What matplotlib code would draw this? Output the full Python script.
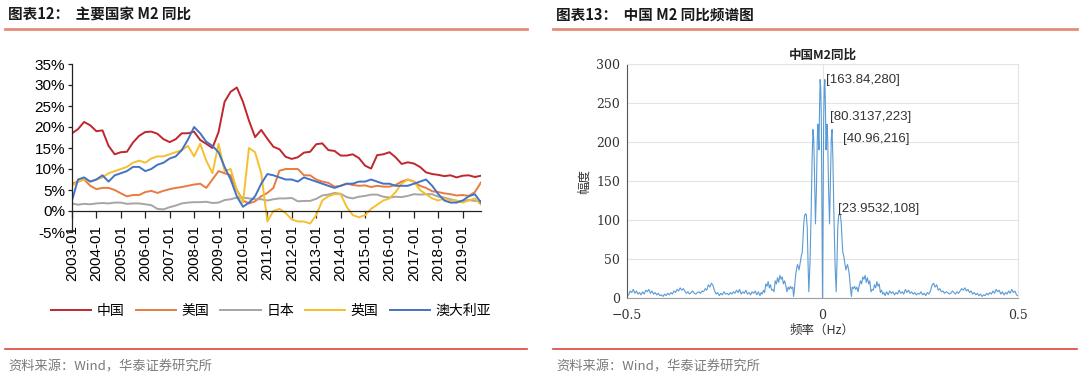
import numpy as np
import pandas as pd
import matplotlib
matplotlib.use('Agg')
import matplotlib.pyplot as plt
from matplotlib.lines import Line2D

plt.rcParams['font.family'] = ['Noto Sans CJK SC', 'DejaVu Sans']
plt.rcParams['axes.unicode_minus'] = False

# ---------------------------------------------------------------- data
# left chart: M2 yoy (%), quarterly samples 2003-01 .. 2019-10
quarters = pd.date_range('2003-01-01', '2019-10-01', freq='QS')

m2_china = [18.5, 19.5, 21.2, 20.4, 19.0, 19.2, 15.5, 13.5, 14.0, 14.1, 16.3, 17.9,
            18.8, 18.9, 18.4, 17.1, 16.4, 17.1, 18.5, 18.5, 18.9, 16.9, 16.0, 15.0,
            18.8, 26.0, 28.4, 29.4, 26.0, 21.5, 17.6, 19.3, 17.2, 15.3, 14.7, 12.9,
            12.4, 12.8, 13.9, 14.1, 15.9, 16.1, 14.5, 14.3, 13.2, 13.2, 13.5, 12.6,
            10.8, 10.1, 13.3, 13.5, 14.0, 12.8, 11.2, 11.6, 11.3, 10.5, 9.2, 8.8,
            8.6, 8.3, 8.5, 8.0, 8.4, 8.5, 8.1, 8.4]
m2_us = [6.5, 7.0, 7.5, 6.0, 5.2, 5.5, 5.5, 5.0, 4.2, 3.5, 3.8, 3.8,
         4.5, 4.8, 4.3, 4.8, 5.2, 5.5, 5.7, 6.0, 6.3, 6.5, 5.5, 7.5,
         9.5, 9.0, 8.5, 5.0, 2.5, 1.8, 2.3, 3.5, 4.3, 5.5, 9.6, 10.0,
         10.0, 10.0, 8.5, 8.5, 7.5, 7.0, 6.7, 5.8, 6.0, 6.5, 6.2, 6.0,
         6.1, 5.7, 6.0, 5.8, 5.8, 6.2, 7.0, 7.5, 7.0, 6.0, 5.5, 4.7,
         4.5, 4.2, 4.0, 3.7, 3.8, 3.6, 4.5, 6.8]
m2_japan = [1.8, 1.5, 1.7, 1.6, 1.8, 1.9, 1.8, 2.0, 2.0, 1.7, 1.8, 1.8,
            1.6, 1.4, 0.5, 0.4, 0.9, 1.3, 1.8, 2.0, 2.1, 2.1, 2.2, 1.9,
            2.0, 2.6, 2.8, 3.2, 3.2, 3.0, 2.8, 2.8, 2.5, 2.8, 3.0, 3.0,
            3.1, 2.3, 2.4, 2.4, 2.9, 3.7, 3.9, 4.3, 4.1, 3.3, 3.0, 3.4,
            3.6, 3.9, 3.9, 3.4, 3.2, 3.4, 3.3, 3.6, 4.0, 3.9, 4.0, 4.0,
            3.4, 3.2, 2.8, 2.4, 2.4, 2.6, 2.4, 2.4]
m2_uk = [6.0, 7.0, 7.5, 7.0, 7.5, 8.0, 9.0, 9.5, 10.0, 10.5, 11.5, 12.0,
         11.5, 12.5, 13.0, 13.0, 13.5, 14.0, 14.5, 15.5, 13.0, 16.0, 12.0, 9.0,
         16.0, 9.5, 10.0, 5.0, 2.0, 15.0, 14.0, 9.0, -2.5, 0.0, 0.5, -0.5,
         -2.0, -2.5, -2.5, -3.0, -1.0, 2.5, 3.5, 4.0, 4.0, 1.0, -1.0, -1.5,
         -1.0, 0.5, 1.5, 2.5, 3.0, 4.5, 6.5, 7.5, 7.0, 5.0, 4.0, 3.0,
         2.5, 3.0, 2.5, 2.5, 2.0, 2.5, 3.0, 1.5]
m2_australia = [2.5, 7.5, 8.0, 7.0, 7.5, 8.5, 7.0, 8.5, 9.0, 9.5, 10.5, 10.5,
                9.5, 10.0, 11.0, 11.5, 12.5, 13.0, 14.5, 17.0, 20.0, 18.5, 16.5, 15.5,
                14.0, 10.5, 7.5, 3.5, 1.0, 2.0, 3.5, 6.5, 8.8, 8.5, 8.0, 7.5,
                7.5, 7.0, 8.0, 7.5, 7.0, 6.5, 6.0, 5.5, 6.0, 6.5, 6.5, 7.0,
                7.0, 7.5, 7.0, 6.5, 6.5, 6.0, 6.0, 6.0, 6.5, 7.0, 7.5, 6.0,
                4.0, 2.5, 2.0, 2.0, 2.5, 3.5, 4.0, 2.0]

series_names = ['中国', '美国', '日本', '英国', '澳大利亚']
series_values = [m2_china, m2_us, m2_japan, m2_uk, m2_australia]
series_colors = ['#C0262D', '#E97B3E', '#A5A5A5', '#F5C02E', '#4472C4']

year_ticks = pd.date_range('2003-01-01', '2019-01-01', freq='YS')
y_ticks = [-5, 0, 5, 10, 15, 20, 25, 30, 35]

# right chart: spectrum of China M2 yoy, positive half (mirrored for negative)
spec_freq = [0.0, 0.0015, 0.003, 0.0045, 0.006, 0.0075, 0.009, 0.0105, 0.0119, 0.0135,
             0.0155, 0.018, 0.0205, 0.0225, 0.0244, 0.0265, 0.029, 0.032, 0.035, 0.037,
             0.039, 0.0415, 0.044, 0.046, 0.048, 0.050, 0.052, 0.054, 0.056, 0.058,
             0.060, 0.062, 0.064, 0.066, 0.068, 0.070, 0.072, 0.074,
             0.076, 0.079, 0.082, 0.085, 0.088, 0.091, 0.094, 0.097, 0.100, 0.103,
             0.106, 0.109, 0.112, 0.115, 0.118, 0.121, 0.124, 0.127, 0.130, 0.133,
             0.136, 0.139, 0.142, 0.145, 0.148, 0.151, 0.154, 0.157, 0.160, 0.164,
             0.168, 0.172, 0.176, 0.180, 0.184, 0.188, 0.192, 0.196, 0.200, 0.204,
             0.208, 0.212, 0.216, 0.220, 0.224, 0.228, 0.232, 0.236, 0.240, 0.244,
             0.248, 0.252, 0.256, 0.260, 0.264, 0.268, 0.272, 0.276, 0.280, 0.284,
             0.288, 0.292, 0.296, 0.300, 0.304, 0.308, 0.312, 0.316, 0.320, 0.324,
             0.328, 0.332, 0.336, 0.340, 0.344, 0.348, 0.352, 0.356, 0.360, 0.364,
             0.368, 0.372, 0.376, 0.380, 0.384, 0.388, 0.392, 0.396, 0.400, 0.404,
             0.408, 0.412, 0.416, 0.420, 0.424, 0.428, 0.432, 0.436, 0.440, 0.444,
             0.448, 0.452, 0.456, 0.460, 0.464, 0.468, 0.472, 0.476, 0.480, 0.484,
             0.488, 0.492, 0.496, 0.500]
spec_amp = [0, 120, 230, 270, 280, 245, 190, 210, 223, 200,
            140, 95, 160, 205, 216, 180, 110, 45, 8, 45,
            90, 107, 108, 105, 95, 75, 58, 55, 48, 42,
            36, 40, 43, 38, 32, 22, 10, 2,
            14, 12, 15, 11, 14, 8, 16, 22, 18, 27,
            24, 29, 20, 26, 18, 22, 8, 11, 10, 17,
            13, 21, 15, 18, 7, 10, 5, 7, 3, 8,
            4, 9, 6, 8, 4, 7, 5, 10, 6, 8,
            5, 11, 7, 10, 6, 8, 5, 7, 4, 6,
            5, 8, 4, 6, 3, 7, 5, 9, 16, 19,
            14, 17, 10, 12, 8, 9, 6, 8, 7, 5,
            6, 9, 7, 5, 8, 6, 9, 12, 10, 13,
            9, 11, 7, 9, 5, 7, 4, 6, 3, 5,
            2, 4, 3, 6, 4, 7, 5, 9, 6, 11,
            8, 10, 5, 8, 4, 7, 5, 9, 6, 11,
            7, 9, 4, 3]

peak_labels = ['[163.84,280]', '[80.3137,223]', '[40.96,216]', '[23.9532,108]']
peak_label_pos = [(0.009, 280), (0.019, 232), (0.052, 204), (0.040, 114)]

# ---------------------------------------------------------------- figure
W, H = 1080, 379
fig = plt.figure(figsize=(W / 100, H / 100), dpi=100)


def fx(px):
    return px / W


def fy(py):
    return 1 - py / H


def header(x0, x1, title):
    fig.text(fx(x0 + 3), fy(15), title, fontsize=10.5, fontweight='bold',
             color='#1a1a1a', va='center', ha='left')
    fig.add_artist(Line2D([fx(x0), fx(x1)], [fy(29), fy(29)], color='#E88A7A', lw=2))
    fig.add_artist(Line2D([fx(x0), fx(x1)], [fy(349), fy(349)], color='#D9453C', lw=1.2))
    fig.text(fx(x0 + 3), fy(367), '资料来源：Wind，华泰证券研究所', fontsize=9.5,
             color='#7a7a7a', va='center', ha='left')


header(5, 527, '图表12：  主要国家 M2 同比')
header(553, 1077, '图表13：  中国 M2 同比频谱图')

# left chart
ax = fig.add_axes([fx(72), fy(232), fx(481) - fx(72), fy(64) - fy(232)])
ax.spines['bottom'].set_position(('data', 0))
for name, vals, c in zip(series_names, series_values, series_colors):
    ax.plot(quarters, vals, color=c, lw=1.4, label=name)
ax.set_xlim(quarters[0], quarters[-1])
ax.set_ylim(-5, 35)
ax.set_yticks(y_ticks)
ax.set_yticklabels([f'{v}%' for v in y_ticks], family=['Liberation Sans', 'DejaVu Sans'],
                   fontsize=11)
ax.set_xticks(year_ticks)
ax.set_xticklabels([d.strftime('%Y-%m') for d in year_ticks], rotation=90,
                   family=['Liberation Sans', 'DejaVu Sans'], fontsize=11)
ax.spines['top'].set_visible(False)
ax.spines['right'].set_visible(False)
for s in ['left', 'bottom']:
    ax.spines[s].set_color('#222222')
    ax.spines[s].set_linewidth(0.9)
ax.tick_params(axis='x', length=5, width=0.9, color='#222222', pad=5)
ax.tick_params(axis='y', length=3, width=0.9, color='#222222', pad=2)

fig.legend(*ax.get_legend_handles_labels(), loc='center', ncol=5,
           bbox_to_anchor=(fx(271), fy(311)), frameon=False, fontsize=10,
           handlelength=2.9, columnspacing=0.8, handletextpad=0.4)

# right chart
freq = [-f for f in spec_freq[::-1]] + spec_freq[1:]
amp = spec_amp[::-1] + spec_amp[1:]
bx = fig.add_axes([fx(627), fy(298), fx(1018) - fx(627), fy(64) - fy(298)])
bx.plot(freq, amp, color='#5B9BD5', lw=0.8)
bx.set_xlim(-0.5, 0.5)
bx.set_ylim(0, 300)
bx.set_xticks([-0.5, 0, 0.5])
bx.set_xticklabels(['\u22120.5', '0', '0.5'], family='DejaVu Serif', fontsize=9,
                   color='#333333')
bx.set_yticks(range(0, 301, 50))
bx.set_yticklabels([str(v) for v in range(0, 301, 50)], family='DejaVu Serif',
                   fontsize=9, color='#333333')
bx.grid(True, color='#E4E4E4', lw=0.8)
bx.set_axisbelow(True)
bx.tick_params(axis='y', length=0, pad=5)
bx.tick_params(axis='x', length=0, pad=8)
bx.spines['left'].set_color('#555555')
bx.spines['bottom'].set_color('#A0A0A0')
bx.spines['top'].set_color('#E4E4E4')
bx.spines['right'].set_color('#E4E4E4')
bx.set_title('中国M2同比', fontsize=9, fontweight='bold', color='#222222', pad=4)
bx.set_xlabel('频率（Hz）', fontsize=9, color='#333333', labelpad=1)
bx.set_ylabel('幅度', fontsize=9, color='#333333', labelpad=4)
for txt, (x, y) in zip(peak_labels, peak_label_pos):
    bx.text(x, y, txt, fontsize=9.5, family=['Liberation Sans', 'DejaVu Sans'],
            color='#333333', ha='left', va='center')

fig.savefig('out.png', dpi=100)
